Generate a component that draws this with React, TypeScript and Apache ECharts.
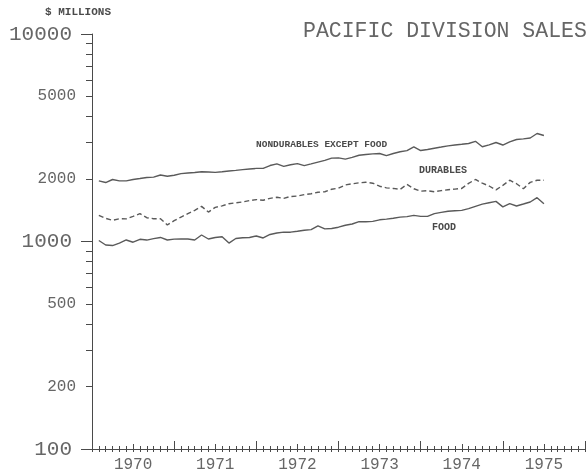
import React, { useEffect, useRef } from 'react';
import * as echarts from 'echarts';

// Monthly values, Jan 1970 .. Jun 1975 ($ millions)
const nondurables = [1959, 1924, 1990, 1959, 1959, 1990, 2012, 2035, 2042, 2092, 2064, 2087,
  2123, 2139, 2149, 2170, 2163, 2154, 2170, 2188, 2203, 2220, 2237, 2250,
  2250, 2323, 2365, 2300, 2344, 2373, 2320, 2365, 2413, 2462, 2523, 2529,
  2495, 2543, 2603, 2627, 2644, 2656, 2594, 2656, 2707, 2740, 2855, 2744,
  2774, 2815, 2852, 2891, 2920, 2940, 2966, 3040, 2861, 2920, 2999, 2917,
  3022, 3101, 3122, 3154, 3316, 3243];
const durables = [1336, 1292, 1266, 1287, 1285, 1321, 1362, 1302, 1288, 1288, 1202, 1260,
  1310, 1362, 1413, 1477, 1386, 1461, 1485, 1521, 1536, 1550, 1575, 1592,
  1581, 1614, 1633, 1614, 1648, 1655, 1683, 1698, 1727, 1737, 1786, 1806,
  1874, 1897, 1918, 1929, 1910, 1847, 1814, 1802, 1784, 1884, 1796, 1747,
  1757, 1737, 1758, 1776, 1788, 1802, 1907, 1990, 1910, 1851, 1772, 1865,
  1974, 1899, 1796, 1927, 1974, 1974];
const food = [1011, 962, 956, 983, 1017, 992, 1025, 1016, 1032, 1046, 1017, 1027,
  1029, 1028, 1017, 1075, 1028, 1046, 1054, 983, 1034, 1042, 1046, 1063,
  1040, 1081, 1099, 1109, 1109, 1120, 1133, 1141, 1189, 1150, 1156, 1172,
  1198, 1214, 1246, 1246, 1250, 1272, 1282, 1295, 1311, 1318, 1336, 1321,
  1321, 1363, 1381, 1398, 1406, 1413, 1441, 1477, 1514, 1538, 1561, 1469,
  1522, 1483, 1516, 1550, 1626, 1519];

const yearLabels = ['1970', '1971', '1972', '1973', '1974', '1975'];
const extraYLabels = [200, 500, 2000, 5000];

const INK = '#4a4a4a';
const TEXT = '#666666';
const MONO = '"Liberation Mono", "DejaVu Sans Mono", monospace';

export default function App() {
  const ref = useRef<HTMLDivElement>(null);

  useEffect(() => {
    if (!ref.current) return;
    const chart = echarts.init(ref.current, undefined, { renderer: 'svg' });
    const toPts = (arr: number[]) => arr.map((v, i) => [i + 1, v]);
    const axisLine = { color: INK, width: 1 };
    const baseX = {
      type: 'value' as const,
      min: 0,
      max: 72,
      position: 'bottom' as const,
      splitLine: { show: false },
      axisLabel: { show: false },
    };
    chart.setOption({
      animation: false,
      title: {
        text: 'PACIFIC DIVISION SALES',
        left: 298,
        top: 15,
        textStyle: { fontFamily: MONO, fontSize: 21.5, fontWeight: 'normal', color: TEXT },
      },
      grid: { left: 92, right: 1, top: 34, bottom: 27 },
      xAxis: [
        {
          ...baseX,
          interval: 1,
          axisLine: { show: true, onZero: false, lineStyle: axisLine },
          axisTick: { show: true, inside: true, length: 3, lineStyle: axisLine },
        },
        {
          ...baseX,
          interval: 1,
          axisLine: { show: false, onZero: false },
          axisTick: { show: true, inside: false, length: 3, lineStyle: axisLine },
        },
        {
          ...baseX,
          interval: 6,
          axisLine: { show: false, onZero: false },
          axisTick: { show: true, inside: true, length: 5, lineStyle: axisLine },
          axisLabel: {
            show: true,
            margin: 8,
            fontFamily: MONO,
            fontSize: 16,
            color: TEXT,
            formatter: (v: number) => (v % 12 === 6 ? yearLabels[(v - 6) / 12] : ''),
          },
        },
        {
          ...baseX,
          interval: 12,
          axisLine: { show: false, onZero: false },
          axisTick: { show: true, inside: true, length: 8, lineStyle: axisLine },
        },
      ],
      yAxis: {
        type: 'log',
        logBase: 10,
        min: 100,
        max: 10000,
        position: 'left',
        axisLine: { show: true, lineStyle: axisLine },
        axisTick: { show: true, inside: false, length: 11, lineStyle: axisLine },
        minorTick: { show: true, splitNumber: 9, length: 6, lineStyle: axisLine },
        splitLine: { show: false },
        minorSplitLine: { show: false },
        axisLabel: {
          margin: 20,
          fontFamily: MONO,
          fontSize: 21,
          color: TEXT,
          formatter: (v: number) => String(v),
        },
      },
      graphic: [
        { type: 'text', x: 45, y: 12, style: { text: '$ MILLIONS', fill: INK, font: `bold 11px ${MONO}`, textVerticalAlign: 'middle', verticalAlign: 'middle' } },
        { type: 'text', x: 256, y: 144, style: { text: 'NONDURABLES EXCEPT FOOD', fill: INK, font: `bold 9.5px ${MONO}`, textVerticalAlign: 'middle', verticalAlign: 'middle' } },
        { type: 'text', x: 419, y: 170, style: { text: 'DURABLES', fill: INK, font: `bold 10px ${MONO}`, textVerticalAlign: 'middle', verticalAlign: 'middle' } },
        { type: 'text', x: 432, y: 227, style: { text: 'FOOD', fill: INK, font: `bold 10px ${MONO}`, textVerticalAlign: 'middle', verticalAlign: 'middle' } },
      ],
      series: [
        {
          name: 'NONDURABLES EXCEPT FOOD',
          type: 'line',
          xAxisIndex: 0,
          data: toPts(nondurables),
          showSymbol: false,
          lineStyle: { color: '#5a5a5a', width: 1.4 },
        },
        {
          name: 'DURABLES',
          type: 'line',
          xAxisIndex: 0,
          data: toPts(durables),
          showSymbol: false,
          lineStyle: { color: '#5a5a5a', width: 1.4, type: [5, 3] },
        },
        {
          name: 'FOOD',
          type: 'line',
          xAxisIndex: 0,
          data: toPts(food),
          showSymbol: false,
          lineStyle: { color: '#5a5a5a', width: 1.4 },
        },
        {
          type: 'custom',
          xAxisIndex: 0,
          clip: false,
          silent: true,
          data: extraYLabels.map((v) => [0, v]),
          renderItem: (_p: any, api: any) => {
            const pt = api.coord([0, api.value(1)]);
            return {
              type: 'text',
              x: pt[0] - 16,
              y: pt[1],
              style: {
                text: String(api.value(1)),
                fill: TEXT,
                fontSize: 16,
                fontFamily: MONO,
                align: 'right',
                verticalAlign: 'middle',
                textAlign: 'right',
                textVerticalAlign: 'middle',
              },
            };
          },
        },
      ],
    });
    return () => chart.dispose();
  }, []);

  return <div ref={ref} style={{ position: 'fixed', left: 0, top: 0, width: 588, height: 476 }} />;
}
